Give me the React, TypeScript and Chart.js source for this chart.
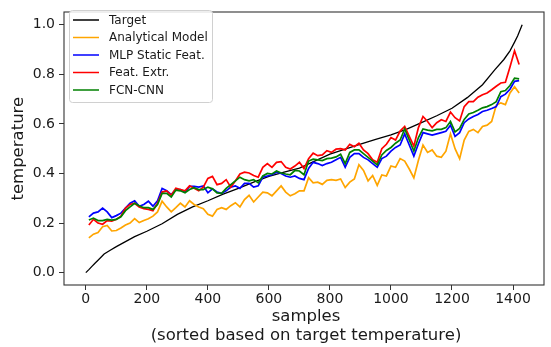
import React, { useEffect, useRef } from 'react';
import { Chart, registerables } from 'chart.js';

Chart.register(...registerables);

// ---------- data ----------
const xTarget = [0, 10, 20, 30, 40, 60, 80, 100, 130, 160, 200, 250, 300, 350, 400, 450, 500, 550, 600, 650, 700, 750, 800, 850, 900, 950, 1000, 1050, 1100, 1150, 1200, 1250, 1300, 1340, 1370, 1390, 1405, 1415, 1425, 1430];
const target = [0, 0.012, 0.025, 0.038, 0.05, 0.075, 0.09, 0.105, 0.125, 0.145, 0.167, 0.197, 0.235, 0.265, 0.29, 0.317, 0.34, 0.365, 0.388, 0.405, 0.422, 0.45, 0.478, 0.498, 0.518, 0.538, 0.556, 0.578, 0.605, 0.633, 0.663, 0.706, 0.758, 0.818, 0.86, 0.895, 0.93, 0.955, 0.985, 1.0];

const xPred = [10, 25, 40, 55, 70, 85, 100, 115, 130, 145, 160, 175, 190, 205, 220, 235, 250, 265, 280, 295, 310, 325, 340, 355, 370, 385, 400, 415, 430, 445, 460, 475, 490, 505, 520, 535, 550, 565, 580, 595, 610, 625, 640, 655, 670, 685, 700, 715, 730, 745, 760, 775, 790, 805, 820, 835, 850, 865, 880, 895, 910, 925, 940, 955, 970, 985, 1000, 1015, 1030, 1045, 1060, 1075, 1090, 1105, 1120, 1135, 1150, 1165, 1180, 1195, 1210, 1225, 1240, 1255, 1270, 1285, 1300, 1315, 1330, 1345, 1360, 1375, 1390, 1405, 1420];

const analytical = [0.14, 0.155, 0.162, 0.185, 0.19, 0.168, 0.17, 0.18, 0.192, 0.2, 0.218, 0.202, 0.21, 0.217, 0.228, 0.245, 0.288, 0.265, 0.245, 0.262, 0.28, 0.265, 0.29, 0.275, 0.265, 0.258, 0.235, 0.228, 0.255, 0.262, 0.255, 0.27, 0.282, 0.265, 0.295, 0.312, 0.285, 0.305, 0.325, 0.322, 0.31, 0.33, 0.35, 0.325, 0.31, 0.318, 0.33, 0.33, 0.383, 0.362, 0.365, 0.356, 0.372, 0.375, 0.372, 0.378, 0.343, 0.365, 0.378, 0.435, 0.412, 0.37, 0.392, 0.352, 0.394, 0.39, 0.43, 0.425, 0.46, 0.45, 0.418, 0.382, 0.453, 0.515, 0.485, 0.495, 0.47, 0.465, 0.49, 0.56, 0.5, 0.46, 0.535, 0.57, 0.578, 0.565, 0.59, 0.595, 0.61, 0.675, 0.685, 0.678, 0.725, 0.75, 0.725];

const mlpStatic = [0.225, 0.24, 0.245, 0.26, 0.245, 0.222, 0.23, 0.24, 0.26, 0.28, 0.29, 0.268, 0.275, 0.288, 0.268, 0.29, 0.34, 0.33, 0.315, 0.335, 0.335, 0.325, 0.348, 0.348, 0.345, 0.35, 0.322, 0.338, 0.325, 0.32, 0.33, 0.345, 0.35, 0.34, 0.36, 0.36, 0.345, 0.35, 0.385, 0.39, 0.395, 0.405, 0.4, 0.39, 0.385, 0.39, 0.38, 0.375, 0.42, 0.445, 0.44, 0.432, 0.44, 0.445, 0.455, 0.465, 0.425, 0.465, 0.48, 0.48, 0.465, 0.455, 0.44, 0.425, 0.46, 0.47, 0.49, 0.505, 0.515, 0.56, 0.515, 0.47, 0.52, 0.565, 0.56, 0.555, 0.56, 0.565, 0.57, 0.595, 0.55, 0.565, 0.605, 0.62, 0.63, 0.638, 0.65, 0.655, 0.662, 0.67, 0.71, 0.72, 0.74, 0.772, 0.775];

const featExtr = [0.192, 0.215, 0.2, 0.195, 0.21, 0.208, 0.215, 0.228, 0.26, 0.275, 0.28, 0.265, 0.258, 0.255, 0.25, 0.28, 0.325, 0.33, 0.312, 0.34, 0.335, 0.33, 0.35, 0.34, 0.33, 0.345, 0.38, 0.388, 0.355, 0.36, 0.375, 0.345, 0.37, 0.398, 0.405, 0.402, 0.392, 0.385, 0.425, 0.44, 0.425, 0.445, 0.448, 0.425, 0.418, 0.43, 0.445, 0.42, 0.46, 0.482, 0.472, 0.475, 0.492, 0.485, 0.498, 0.5, 0.495, 0.518, 0.508, 0.522, 0.495, 0.48, 0.455, 0.445, 0.5, 0.518, 0.545, 0.535, 0.571, 0.59, 0.55, 0.51, 0.585, 0.63, 0.61, 0.585, 0.605, 0.617, 0.61, 0.648, 0.625, 0.612, 0.67, 0.69, 0.69, 0.708, 0.718, 0.725, 0.738, 0.752, 0.765, 0.768, 0.83, 0.895, 0.84];

const fcnCnn = [0.212, 0.22, 0.21, 0.21, 0.215, 0.212, 0.215, 0.225, 0.25, 0.265, 0.28, 0.27, 0.262, 0.262, 0.255, 0.275, 0.32, 0.32, 0.305, 0.333, 0.33, 0.322, 0.335, 0.343, 0.335, 0.335, 0.345, 0.338, 0.322, 0.32, 0.34, 0.355, 0.37, 0.385, 0.375, 0.37, 0.375, 0.362, 0.39, 0.4, 0.398, 0.41, 0.402, 0.398, 0.395, 0.412, 0.41, 0.395, 0.45, 0.458, 0.455, 0.452, 0.46, 0.462, 0.467, 0.478, 0.44, 0.485, 0.495, 0.495, 0.48, 0.465, 0.45, 0.435, 0.475, 0.493, 0.505, 0.522, 0.535, 0.58, 0.535, 0.49, 0.545, 0.58, 0.575, 0.572, 0.578, 0.578, 0.585, 0.61, 0.568, 0.582, 0.618, 0.64, 0.646, 0.655, 0.665, 0.67, 0.678, 0.69, 0.73, 0.735, 0.755, 0.785, 0.782];

const xTicks = [0, 200, 400, 600, 800, 1000, 1200, 1400];
const yTicks = [0, 0.2, 0.4, 0.6, 0.8, 1.0];

const seriesLabels = ['Target', 'Analytical Model', 'MLP Static Feat.', 'Feat. Extr.', 'FCN-CNN'];
const seriesColors = ['#000000', '#FFA500', '#0000FF', '#FF0000', '#008000'];

const xTitle = 'samples';
const xSubtitle = '(sorted based on target temperature)';
const yTitle = 'temperature';

const FONT = '"DejaVu Sans", sans-serif';
const TEXT = '#1a1a1a';

function toPoints(xs: number[], ys: number[]) {
  return xs.map((x, i) => ({ x, y: ys[i] }));
}

const decorPlugin = {
  id: 'decor',
  afterDraw(chart: any) {
    const { ctx, chartArea } = chart;
    const { left, right, top, bottom } = chartArea;
    ctx.save();
    // frame
    ctx.strokeStyle = '#333333';
    ctx.lineWidth = 1.1;
    ctx.strokeRect(Math.round(left), Math.round(top), Math.round(right) - Math.round(left), Math.round(bottom) - Math.round(top));

    // axis titles
    ctx.fillStyle = TEXT;
    ctx.font = `16.5px ${FONT}`;
    ctx.textAlign = 'center';
    ctx.textBaseline = 'middle';
    const cx = (left + right) / 2;
    ctx.fillText(xTitle, cx + 2, 317);
    ctx.fillText(xSubtitle, cx + 2, 336);
    ctx.save();
    ctx.translate(18.5, (top + bottom) / 2);
    ctx.rotate(-Math.PI / 2);
    ctx.fillText(yTitle, 0, 0);
    ctx.restore();

    // legend
    const lx = 69.5, ly = 10.5, lw = 143, lh = 92, r = 3;
    ctx.beginPath();
    ctx.moveTo(lx + r, ly);
    ctx.lineTo(lx + lw - r, ly);
    ctx.arcTo(lx + lw, ly, lx + lw, ly + r, r);
    ctx.lineTo(lx + lw, ly + lh - r);
    ctx.arcTo(lx + lw, ly + lh, lx + lw - r, ly + lh, r);
    ctx.lineTo(lx + r, ly + lh);
    ctx.arcTo(lx, ly + lh, lx, ly + lh - r, r);
    ctx.lineTo(lx, ly + r);
    ctx.arcTo(lx, ly, lx + r, ly, r);
    ctx.closePath();
    ctx.fillStyle = 'rgba(255,255,255,0.85)';
    ctx.fill();
    ctx.strokeStyle = '#d0d0d0';
    ctx.lineWidth = 1;
    ctx.stroke();

    ctx.font = `12px ${FONT}`;
    ctx.textAlign = 'left';
    ctx.textBaseline = 'middle';
    seriesLabels.forEach((label, i) => {
      const y = 20 + i * 17.5;
      ctx.strokeStyle = seriesColors[i];
      ctx.lineWidth = 1.5;
      ctx.beginPath();
      ctx.moveTo(73, y);
      ctx.lineTo(99, y);
      ctx.stroke();
      ctx.fillStyle = TEXT;
      ctx.fillText(label, 109, y + 0.5);
    });
    ctx.restore();
  },
};

export default function App() {
  const canvasRef = useRef<HTMLCanvasElement | null>(null);

  useEffect(() => {
    if (!canvasRef.current) return;
    const seriesData = [
      toPoints(xTarget, target),
      toPoints(xPred, analytical),
      toPoints(xPred, mlpStatic),
      toPoints(xPred, featExtr),
      toPoints(xPred, fcnCnn),
    ];
    const chart = new Chart(canvasRef.current, {
      type: 'line',
      data: {
        datasets: seriesData.map((d, i) => ({
          label: seriesLabels[i],
          data: d,
          borderColor: seriesColors[i],
          backgroundColor: seriesColors[i],
          borderWidth: i === 0 ? 1.3 : 1.7,
          pointRadius: 0,
          tension: 0,
          fill: false,
          order: 5 - i,
        })),
      },
      options: {
        responsive: false,
        animation: false,
        devicePixelRatio: 1,
        layout: { padding: { top: 4, right: 7, left: 0, bottom: 0 } },
        plugins: { legend: { display: false }, tooltip: { enabled: false } },
        scales: {
          x: {
            type: 'linear',
            min: -71.5,
            max: 1501.5,
            afterBuildTicks: (scale: any) => {
              scale.ticks = xTicks.map((v) => ({ value: v }));
            },
            afterFit: (scale: any) => {
              scale.height = 62;
            },
            grid: { drawOnChartArea: false, drawTicks: true, tickLength: 5, color: '#333333', lineWidth: 1 },
            border: { display: false },
            ticks: {
              padding: 1,
              color: TEXT,
              font: { family: FONT, size: 14 },
              maxRotation: 0,
              autoSkip: false,
              callback: (v: any) => String(v),
            },
          },
          y: {
            type: 'linear',
            min: -0.05,
            max: 1.05,
            afterBuildTicks: (scale: any) => {
              scale.ticks = yTicks.map((v) => ({ value: v }));
            },
            afterFit: (scale: any) => {
              scale.width = 64;
            },
            grid: { drawOnChartArea: false, drawTicks: true, tickLength: 5, color: '#333333', lineWidth: 1 },
            border: { display: false },
            ticks: {
              padding: 4,
              color: TEXT,
              font: { family: FONT, size: 14 },
              autoSkip: false,
              callback: (v: any) => Number(v).toFixed(1),
            },
          },
        },
      },
      plugins: [decorPlugin],
    } as any);
    return () => chart.destroy();
  }, []);

  return (
    <div style={{ position: 'absolute', left: 0, top: 0, width: 551, height: 347, background: '#fff' }}>
      <canvas ref={canvasRef} width={551} height={347} style={{ width: 551, height: 347 }} />
    </div>
  );
}
